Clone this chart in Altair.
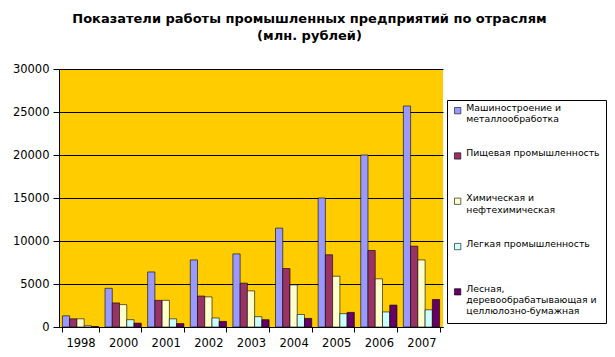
import altair as alt
import pandas as pd

years = ["1998", "2000", "2001", "2002", "2003", "2004", "2005", "2006", "2007"]
series = [
    "Машиностроение и\nметаллообработка\n",
    "Пищевая промышленность\n\n",
    "Химическая и\nнефтехимическая\n",
    "Легкая промышленность\n\n",
    "Лесная,\nдеревообрабатывающая и\nцеллюлозно-бумажная",
]
mash = [1300, 4500, 6400, 7800, 8500, 11500, 15000, 20000, 25700]
pish = [950, 2800, 3100, 3600, 5100, 6800, 8400, 8900, 9400]
khim = [950, 2600, 3100, 3500, 4200, 4900, 5900, 5600, 7800]
legk = [150, 850, 950, 1050, 1200, 1450, 1550, 1750, 2000]
lesn = [60, 450, 400, 650, 850, 1000, 1700, 2550, 3200]
colors = ["#9999FF", "#993366", "#FFFFCC", "#CCFFFF", "#660066"]
y_ticks = [0, 5000, 10000, 15000, 20000, 25000, 30000]

rows = []
for s, vals in zip(series, [mash, pish, khim, legk, lesn]):
    for y, v in zip(years, vals):
        rows.append({"year": y, "series": s, "value": v})
df = pd.DataFrame(rows)

FONT = "DejaVu Sans"

chart = alt.Chart(df).mark_bar(stroke="black", strokeWidth=0.6).encode(
    x=alt.X("year:N", sort=years,
            scale=alt.Scale(paddingInner=0.15, paddingOuter=0.08),
            axis=alt.Axis(title=None, labelAngle=0, tickBand="extent",
                          domainColor="black", tickColor="black", tickSize=5,
                          labelFont=FONT, labelFontSize=11.5, labelColor="black",
                          labelPadding=5, grid=False)),
    xOffset=alt.XOffset("series:N", sort=series, scale=alt.Scale(paddingInner=0, paddingOuter=0)),
    y=alt.Y("value:Q", scale=alt.Scale(domain=[0, 30000], nice=False),
            axis=alt.Axis(title=None, values=y_ticks, format="d", grid=True, gridColor="black",
                          gridWidth=1, domainColor="black", tickColor="black",
                          tickSize=6, labelFont=FONT, labelFontSize=11.5,
                          labelColor="black", labelPadding=4)),
    color=alt.Color("series:N", sort=series,
                    scale=alt.Scale(domain=series, range=colors),
                    legend=alt.Legend(title=None, orient="none", legendX=388, legendY=31,
                                      strokeColor="black", padding=6,
                                      symbolType="square", symbolSize=40,
                                      symbolStrokeColor="black", symbolStrokeWidth=0.6,
                                      labelFont=FONT, labelFontSize=9.3, labelColor="black",
                                      labelLimit=300, labelBaseline="alphabetic",
                                      labelExpr="split(datum.label, '\\n')",
                                      rowPadding=12.3, fillColor="white")),
).properties(
    width=384, height=258,
    title=alt.TitleParams(
        text=["Показатели работы промышленных предприятий по  отраслям", "(млн. рублей)"],
        font=FONT, fontSize=13, fontWeight="bold", color="black",
        anchor="middle", frame="bounds", offset=20, lineHeight=17),
    padding={"left": 51, "top": 61, "right": 164, "bottom": 30},
    autosize=alt.AutoSizeParams(type="none"),
).configure(background="white").configure_view(fill="#FFCC00", stroke=None)

chart.save("out.html", embed_options={"renderer": "svg", "actions": False})
